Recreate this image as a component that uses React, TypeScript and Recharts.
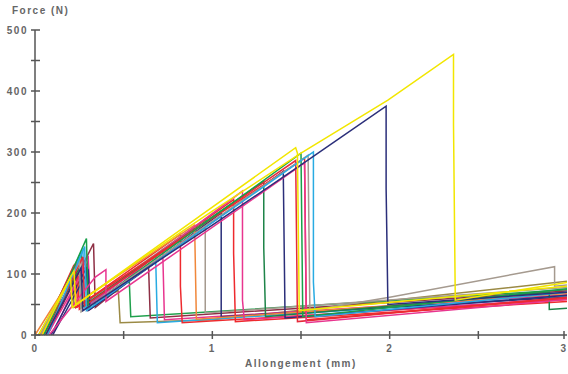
import React from "react";
import { LineChart, Line, XAxis, YAxis } from "recharts";

// each curve: [elongation (mm), force (N)]
const yellowLong = [[0.04, 0], [0.2, 95], [0.21, 45], [0.6, 125], [1.0, 203], [1.5, 298], [1.99, 385], [2.36, 460], [2.36, 345], [2.37, 57], [3, 86]];
const navyLong = [[0.06, 0], [0.26, 110], [0.27, 40], [1.0, 180], [1.5, 279], [1.98, 375], [1.98, 240], [1.99, 50], [3, 70]];
const yellowShort = [[0.02, 0], [0.22, 105], [0.23, 50], [1.47, 307], [1.48, 298], [1.49, 40], [3, 80]];
const green = [[0.05, 0], [0.29, 158], [0.3, 45], [1.5, 298], [1.51, 30], [3, 76]];
const lightBlue = [[0.07, 0], [0.28, 145], [0.29, 40], [1.57, 300], [1.57, 87], [1.58, 30], [3, 70]];
const taupe = [[0.03, 0], [0.25, 120], [0.26, 38], [1.54, 295], [1.55, 40], [2.0, 62], [2.93, 112], [2.93, 80], [3, 82]];
const red = [[0.04, 0], [0.22, 115], [0.23, 45], [1.52, 290], [1.53, 25], [3, 60]];
const pink = [[0.08, 0], [0.34, 95], [0.4, 107], [0.4, 55], [1.52, 282], [1.53, 20], [3, 58]];
const navyMid = [[0.1, 0], [0.3, 105], [0.31, 42], [1.4, 268], [1.41, 28], [3, 65]];
const redMid = [[0.06, 0], [0.27, 128], [0.28, 48], [1.47, 286], [1.48, 22], [3, 62]];
const darkGreen = [[0.05, 0], [0.25, 110], [0.26, 45], [1.29, 252], [1.29, 143], [1.3, 30], [2.9, 70], [2.9, 42], [3, 44]];
const pinkMid = [[0.07, 0], [0.3, 120], [0.31, 50], [1.17, 236], [1.17, 57], [1.18, 25], [3, 60]];
const redLow = [[0.03, 0], [0.24, 100], [0.25, 42], [1.12, 222], [1.12, 134], [1.13, 22], [3, 55]];
const navyLow = [[0.09, 0], [0.29, 110], [0.3, 40], [1.05, 200], [1.05, 30], [3, 62]];
const taupeLow = [[0.06, 0], [0.26, 125], [0.27, 48], [0.96, 190], [0.96, 36], [3, 78]];
const redShort = [[0.04, 0], [0.23, 118], [0.24, 46], [0.82, 165], [0.82, 80], [0.83, 20], [3, 58]];
const pinkShort = [[0.1, 0], [0.3, 130], [0.31, 42], [0.72, 140], [0.73, 25], [3, 66]];
const blueShort = [[0.05, 0], [0.27, 140], [0.28, 45], [0.68, 130], [0.69, 20], [3, 64]];
const maroon = [[0.07, 0], [0.33, 150], [0.34, 45], [0.64, 115], [0.65, 28], [3, 72]];
const greenShort = [[0.03, 0], [0.26, 135], [0.27, 50], [0.53, 100], [0.54, 30], [3, 74]];
const olive = [[0.02, 0], [0.21, 100], [0.22, 45], [0.47, 72], [0.48, 20], [1.0, 25], [3, 88]];
const orange = [[0.0, 0], [0.2, 92], [0.21, 48], [0.9, 180], [0.91, 26], [3, 68]];

const curves = [olive, greenShort, maroon, blueShort, pinkShort, redShort, taupeLow, navyLow, redLow, orange, pinkMid, darkGreen, navyMid, redMid, red, green, taupe, lightBlue, pink, navyLong, yellowShort, yellowLong];
const colors = ["#9b8a45", "#1fa04c", "#8e2f45", "#29abe2", "#e8358f", "#ee2a2e", "#a59a8f", "#2b2f7a", "#ee2a2e", "#f0873a", "#e8358f", "#1e8449", "#2b2f7a", "#e62a3a", "#ee2a2e", "#17a04a", "#a59a8f", "#29abe2", "#e8358f", "#2b2f7a", "#f2e600", "#f2e600"];

const yTicks = [0, 50, 100, 150, 200, 250, 300, 350, 400, 450, 500];
const xTicks = [0, 0.5, 1, 1.5, 2, 2.5, 3];

const toPts = (c) => c.map(([x, f]) => ({ x, f }));

const labelStyle = { fontFamily: "Arial, 'Liberation Sans', sans-serif", fontSize: 10, fontWeight: 700, fill: "#666", letterSpacing: 1.5 };

const YTick = ({ y, payload }) => (
  <g>
    <line x1={31} x2={40} y1={y} y2={y} stroke="#555" strokeWidth={1.5} />
    {payload.value % 100 === 0 && (
      <text x={28} y={y} dy={3.5} textAnchor="end" style={labelStyle}>
        {payload.value}
      </text>
    )}
  </g>
);

const XTick = ({ x, payload }) => (
  <g>
    <line x1={x} x2={x} y1={331} y2={339} stroke="#555" strokeWidth={1.5} />
    {Number.isInteger(payload.value) && (
      <text x={x} y={352} textAnchor="middle" style={labelStyle}>
        {payload.value}
      </text>
    )}
  </g>
);

const textStyle = { position: "absolute", fontFamily: "Arial, 'Liberation Sans', sans-serif", fontSize: 10, fontWeight: 700, color: "#666", letterSpacing: 1.5 };

const App = () => (
  <div style={{ position: "absolute", left: 0, top: 0, width: 568, height: 374, background: "#fff", overflow: "hidden" }}>
    <LineChart width={568} height={374} margin={{ top: 30, right: 1, left: 0, bottom: 0 }}>
      <XAxis
        dataKey="x"
        type="number"
        domain={[0, 3]}
        ticks={xTicks}
        height={39}
        axisLine={{ stroke: "#555", strokeWidth: 1.5 }}
        tickLine={false}
        tick={<XTick />}
        allowDataOverflow
      />
      <YAxis
        type="number"
        domain={[0, 500]}
        ticks={yTicks}
        width={35}
        axisLine={{ stroke: "#555", strokeWidth: 1.5 }}
        tickLine={false}
        tick={<YTick />}
      />
      {curves.map((c, i) => (
        <Line
          key={i}
          data={toPts(c)}
          dataKey="f"
          type="linear"
          stroke={colors[i]}
          strokeWidth={1.5}
          dot={false}
          isAnimationActive={false}
        />
      ))}
    </LineChart>
    <div style={{ ...textStyle, left: 12, top: 5 }}>Force (N)</div>
    <div style={{ ...textStyle, left: 245, top: 358 }}>Allongement (mm)</div>
  </div>
);

export default App;
